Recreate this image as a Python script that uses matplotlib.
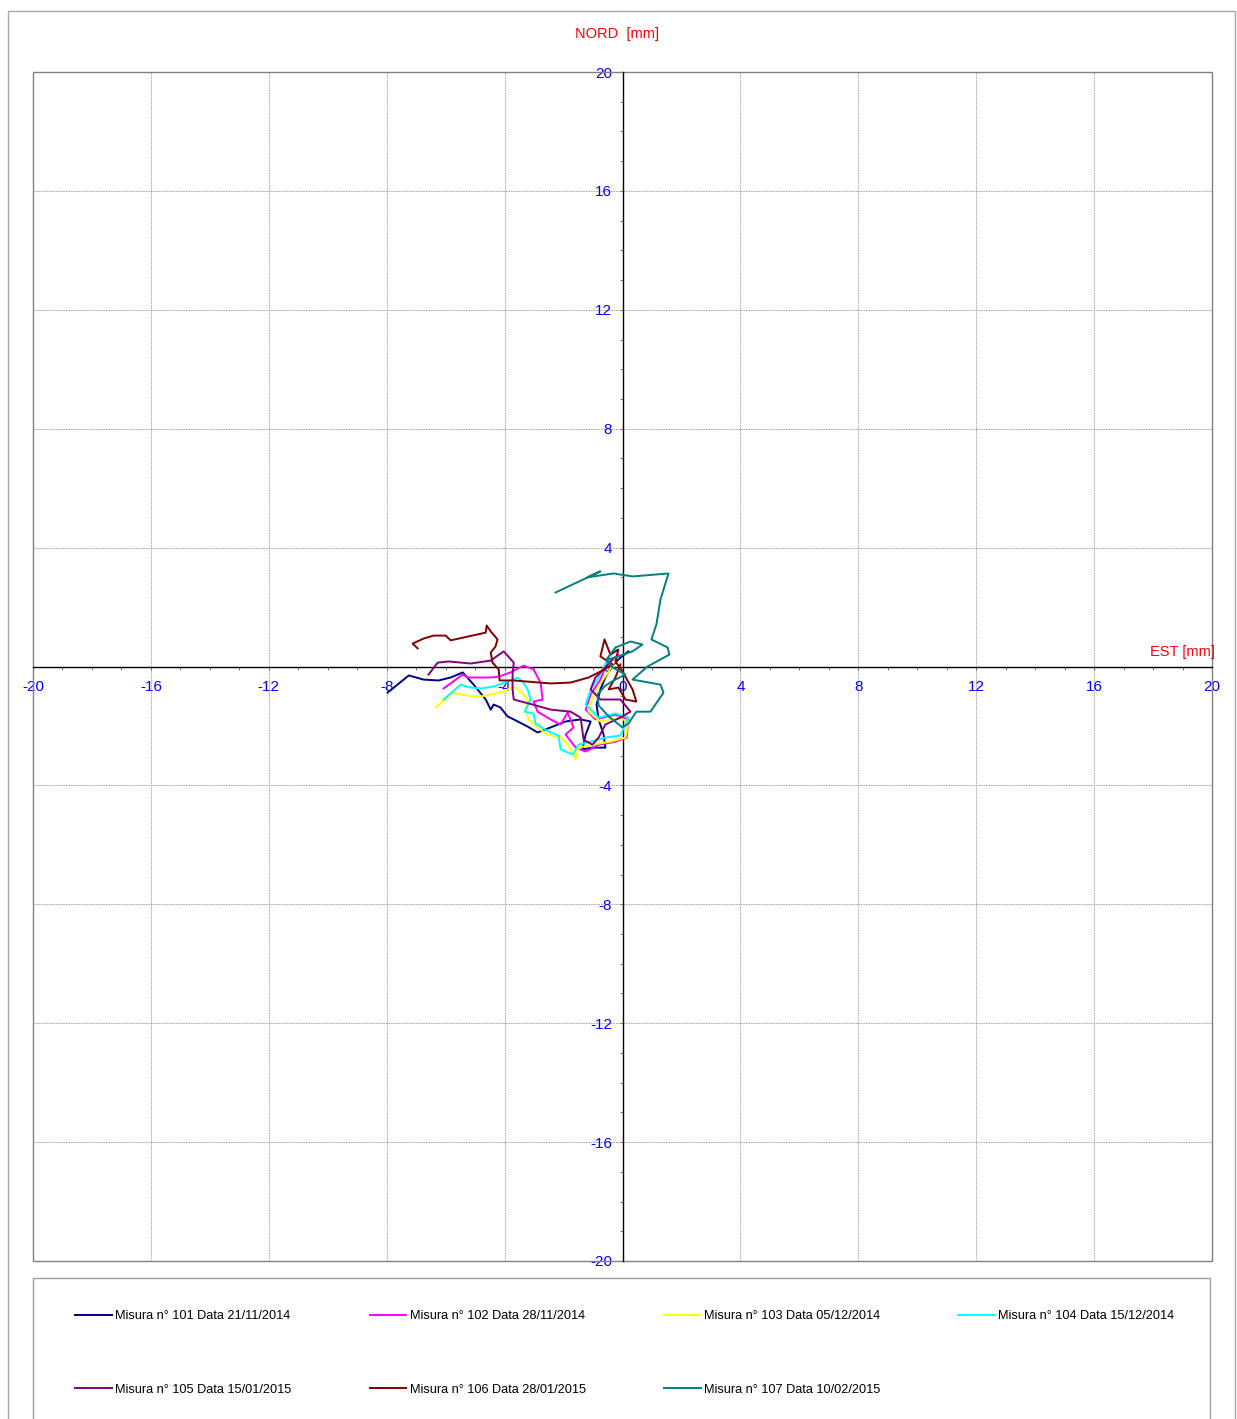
"""Spostamenti cumulati inclinometro: piano NORD / EST."""

import matplotlib
matplotlib.use("Agg")
import matplotlib.pyplot as plt
from matplotlib.patches import Rectangle
from matplotlib.ticker import MultipleLocator

plt.rcParams['font.family'] = ['Liberation Sans', 'DejaVu Sans']

# --- dati (mm) ---
labels = [
    "Misura n° 101 Data 21/11/2014",
    "Misura n° 102 Data 28/11/2014",
    "Misura n° 103 Data 05/12/2014",
    "Misura n° 104 Data 15/12/2014",
    "Misura n° 105 Data 15/01/2015",
    "Misura n° 106 Data 28/01/2015",
    "Misura n° 107 Data 10/02/2015",
]
colors = ["#000080", "#FF00FF", "#FFFF00", "#00FFFF", "#800080", "#800000", "#008080"]

est_101 = [-7.97, -7.25, -6.75, -6.24, -5.83, -5.42, -5.05, -4.64, -4.47, -4.37, -4.14, -3.90, -3.69,
           -3.22, -2.88, -2.44, -1.93, -1.42, -1.08, -1.25, -1.36, -1.02, -0.58, -0.64, -0.81, -0.88,
           -0.75, -0.58, -0.41, -0.07, 0.20]
nord_101 = [-0.88, -0.30, -0.44, -0.47, -0.37, -0.20, -0.61, -1.11, -1.45, -1.28, -1.38, -1.68, -1.78,
            -2.02, -2.22, -2.05, -1.85, -1.78, -1.85, -2.29, -2.79, -2.73, -2.73, -2.29, -1.78, -1.28,
            -0.77, -0.37, -0.03, 0.30, 0.51]

est_102 = [-6.07, -5.42, -5.25, -4.47, -4.20, -3.80, -3.36, -3.02, -2.78, -2.71, -3.02, -2.88, -2.44,
           -2.10, -1.86, -1.66, -1.93, -1.59, -1.25, -0.81, -0.24, 0.14, 0.20, -0.24, -0.92, -1.25,
           -1.08, -0.75, -0.58, -0.34, -0.14]
nord_102 = [-0.74, -0.27, -0.37, -0.37, -0.34, -0.20, 0.03, -0.10, -0.54, -1.11, -1.18, -1.52, -1.78,
            -1.95, -1.55, -2.05, -2.29, -2.73, -2.86, -2.63, -2.53, -2.39, -1.78, -1.62, -1.78, -1.45,
            -0.94, -0.44, -0.03, 0.24, 0.40]

est_103 = [-6.34, -5.76, -5.49, -5.08, -4.81, -4.47, -4.03, -3.69, -3.46, -3.22, -3.29, -3.19, -2.88,
           -2.54, -2.10, -1.83, -1.59, -1.49, -1.02, -0.41, 0.10, 0.20, -0.14, -0.75, -1.15, -1.02,
           -0.75, -0.47, -0.27]
nord_103 = [-1.38, -0.88, -0.94, -1.01, -1.01, -0.94, -0.84, -0.67, -0.84, -1.11, -1.45, -1.78, -2.05,
            -2.29, -2.39, -2.63, -3.13, -2.73, -2.63, -2.53, -2.39, -1.85, -1.72, -1.85, -1.52, -1.04,
            -0.57, -0.17, 0.17]

est_104 = [-6.07, -5.49, -5.15, -4.81, -4.37, -3.90, -3.56, -3.39, -3.22, -3.12, -3.32, -3.02, -2.95,
           -2.51, -2.17, -2.10, -1.69, -1.49, -1.08, -0.58, -0.07, 0.20, -0.24, -0.81, -1.25, -1.08,
           -0.81, -0.61, -0.41, -0.20]
nord_104 = [-1.11, -0.61, -0.71, -0.74, -0.67, -0.51, -0.37, -0.51, -0.77, -1.11, -1.52, -1.58, -1.92,
            -2.19, -2.32, -2.79, -2.96, -2.63, -2.53, -2.39, -2.32, -1.72, -1.58, -1.72, -1.28, -0.77,
            -0.37, 0.03, 0.40, 0.57]

est_105 = [-6.58, -6.27, -5.90, -5.15, -4.47, -4.03, -3.69, -3.73, -3.73, -3.69, -3.05, -2.44, -1.76,
           -1.42, -1.32, -1.02, -0.81, -0.58, -0.07, 0.27, -0.07, -0.75, -1.08, -0.92, -0.58, -0.34]
nord_105 = [-0.27, 0.13, 0.17, 0.10, 0.20, 0.51, 0.13, -0.27, -0.77, -1.11, -1.28, -1.45, -1.52,
            -1.72, -2.46, -2.63, -2.39, -1.95, -1.72, -1.52, -1.11, -1.11, -0.77, -0.37, -0.03, 0.24]

est_106 = [-6.95, -7.12, -6.75, -6.41, -6.00, -5.83, -4.64, -4.61, -4.47, -4.24, -4.31, -4.47, -4.41,
           -4.20, -4.17, -3.69, -2.44, -1.76, -1.15, -0.75, -0.34, -0.75, -0.61, -0.41, -0.14, -0.24,
           0.00, 0.34, 0.47, 0.10, -0.14, -0.47, -0.24, -0.07]
nord_106 = [0.61, 0.77, 0.94, 1.04, 1.04, 0.88, 1.14, 1.38, 1.18, 0.91, 0.67, 0.47, 0.13,
            -0.10, -0.47, -0.47, -0.57, -0.54, -0.37, -0.17, 0.07, 0.34, 0.91, 0.40, 0.57, 0.17,
            -0.17, -0.77, -1.18, -1.11, -0.71, -0.77, -0.37, 0.07]

est_107 = [-2.27, -0.75, -1.19, -0.31, 0.34, 1.56, 1.29, 1.15, 0.98, 1.53, 1.59, 0.85, 0.34, 1.29,
           1.39, 0.95, 0.47, 0.20, 0.00, -0.47, -0.81, -0.85, -0.58, -0.24, 0.10, -0.34, -0.54,
           -0.24, 0.27, 0.68, 0.34, -0.14, -0.47]
nord_107 = [2.49, 3.20, 3.00, 3.13, 3.03, 3.13, 2.26, 1.41, 0.91, 0.64, 0.40, 0.00, -0.44, -0.61,
            -0.88, -1.52, -1.52, -1.92, -2.05, -1.68, -1.31, -0.94, -0.64, -0.44, -0.27, -0.03, 0.24,
            0.64, 0.84, 0.74, 0.51, 0.34, 0.24]

est = [est_101, est_102, est_103, est_104, est_105, est_106, est_107]
nord = [nord_101, nord_102, nord_103, nord_104, nord_105, nord_106, nord_107]

W, H = 1237, 1419
fig = plt.figure(figsize=(W / 100, H / 100), dpi=100)
ax = fig.add_axes([33 / W, (H - 1261) / H, (1212 - 33) / W, (1261 - 72) / H])

lines = []
for x, y, c, lab in zip(est, nord, colors, labels):
    ln, = ax.plot(x, y, color=c, lw=1.4, label=lab, zorder=3)
    lines.append(ln)

ax.set_xlim(-20, 20)
ax.set_ylim(-20, 20)

# assi centrati
for s in ['left', 'bottom']:
    ax.spines[s].set_position(('data', 0))
    ax.spines[s].set_color('black')
    ax.spines[s].set_linewidth(1.0)
    ax.spines[s].set_zorder(2)
for s in ['top', 'right']:
    ax.spines[s].set_visible(False)
ax.add_patch(Rectangle((0, 0), 1, 1, transform=ax.transAxes, fill=False,
                       edgecolor='#808080', lw=1.0, zorder=1, clip_on=False))

ax.xaxis.set_major_locator(MultipleLocator(4))
ax.yaxis.set_major_locator(MultipleLocator(4))
ax.xaxis.set_minor_locator(MultipleLocator(1))
ax.yaxis.set_minor_locator(MultipleLocator(1))
ax.tick_params(which='both', direction='out', length=2.5, width=0.6, color='#606060',
               labelsize=11, labelcolor='#0000FF')
ax.tick_params(axis='x', pad=7)
ax.tick_params(axis='y', pad=5)
ax.set_xticklabels([f"{int(v)}" for v in ax.get_xticks()])
ax.set_yticklabels([f"{int(v)}" for v in ax.get_yticks()])

ax.grid(True, which='major', color='#a0a0a0', lw=0.6, linestyle=(0, (2, 1)), zorder=0)
ax.set_axisbelow(True)

ax.text(20.1, 0.25, "EST [mm]", color='red', fontsize=10.5, ha='right', va='bottom')
fig.text(617 / W, 1 - 34 / H, "NORD  [mm]", color='red', fontsize=10.5, ha='center', va='center')

# cornice esterna e riquadro legenda
fig.patches.append(Rectangle((8 / W, -0.01), (1235 - 8) / W, 1.01 - 11 / H,
                             transform=fig.transFigure, fill=False, edgecolor='#a8a8a8', lw=1.0))
fig.patches.append(Rectangle((33 / W, -0.01), (1210 - 33) / W, 0.01 + (H - 1278) / H,
                             transform=fig.transFigure, fill=False, edgecolor='#a0a0a0', lw=1.0))

order = [0, 4, 1, 5, 2, 6, 3]
leg = ax.legend([lines[i] for i in order], [labels[i] for i in order], ncol=4,
                loc='upper left', bbox_to_anchor=(75 / W, 1 - 1310 / H),
                bbox_transform=fig.transFigure, fontsize=9.15, frameon=False,
                borderpad=0, handlelength=2.9, handletextpad=0.25,
                columnspacing=6.15, labelspacing=4.85, borderaxespad=0)

fig.savefig("out.png", dpi=100)
